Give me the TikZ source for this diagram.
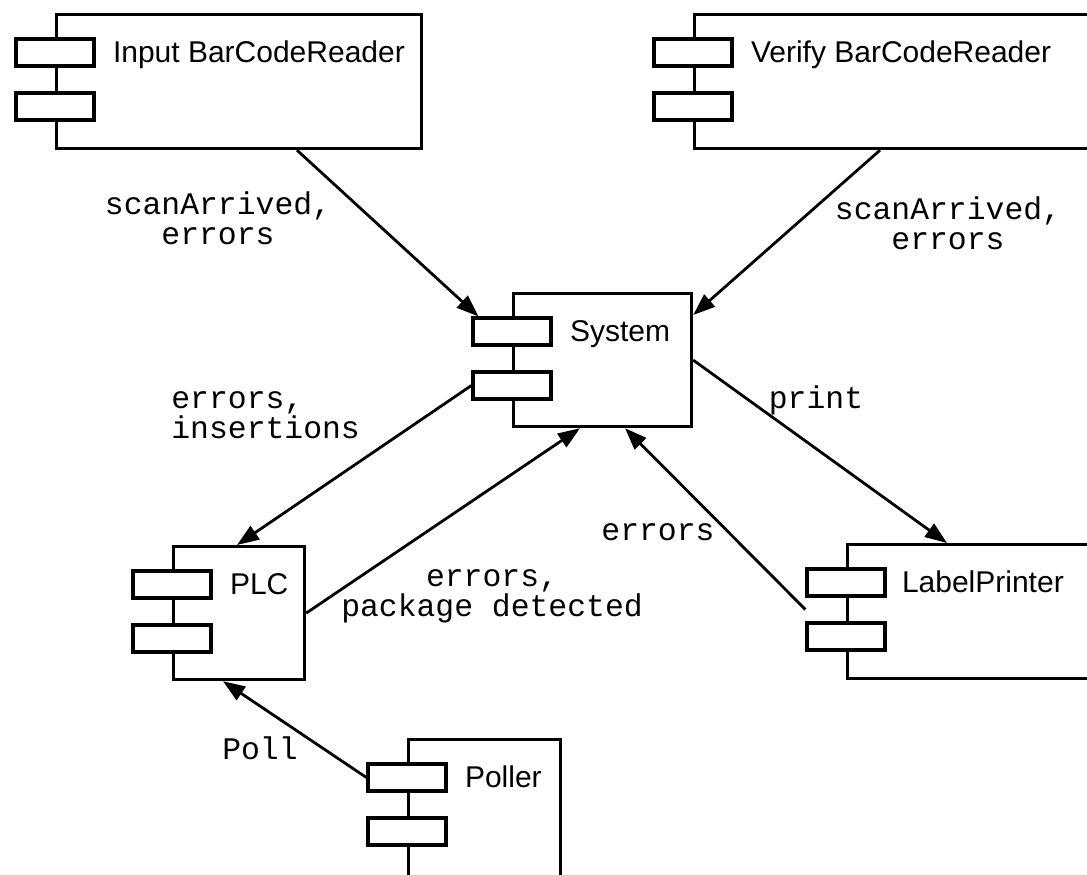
\documentclass[tikz,border=0pt]{standalone}
\usepackage{fontspec}
\setmainfont{Liberation Sans}
\setmonofont{Liberation Mono}
\usetikzlibrary{arrows.meta, positioning, calc}

\begin{document}
\begin{tikzpicture}[
    x=0.5pt, y=-0.5pt,
    comp/.style={rectangle, draw, line width=1.6pt, fill=white, anchor=north west, inner sep=0pt},
    port/.style={rectangle, draw, line width=1.6pt, fill=white, minimum width=39pt,
                 minimum height=13.5pt, inner sep=0pt},
    title/.style={anchor=base west, inner sep=0pt, font=\fontsize{15}{17}\selectfont},
    msg/.style={font=\ttfamily\fontsize{15.7}{15}\selectfont, align=center, inner sep=0pt},
    arrow/.style={-{Triangle[length=11pt, width=8pt]}, line width=1.4pt},
]
\clip[use as bounding box] (0,0) rectangle (1087,874);

% components
\node[comp, minimum width=182.5pt, minimum height=67pt] (inbcr) at (55,13) {};
\node[comp, minimum width=203.5pt, minimum height=67pt] (vbcr) at (693,13) {};
\node[comp, minimum width=89pt, minimum height=66.5pt] (sys) at (512,292) {};
\node[comp, minimum width=65.5pt, minimum height=66.5pt] (plc) at (172,545) {};
\node[comp, minimum width=127pt, minimum height=67pt] (lp) at (846,543) {};
\node[comp, minimum width=76pt, minimum height=76pt] (poll) at (407,738) {};

% the two ports on the left edge of each component
\foreach \c in {inbcr, vbcr, sys, plc, lp, poll} {
    \node[port] (\c-p1) at ($(\c.north west)+(0,39.5)$) {};
    \node[port] (\c-p2) at ($(\c.north west)+(0,93.5)$) {};
}

\node[title] (inbcr-name) at ($(inbcr-p1.east)+(17,10)$) {Input BarCodeReader};
\node[title] (vbcr-name) at ($(vbcr-p1.east)+(17,10)$) {Verify BarCodeReader};
\node[title] (sys-name) at ($(sys-p1.east)+(17,10)$) {System};
\node[title] (plc-name) at ($(plc-p1.east)+(17,10)$) {PLC};
\node[title] (lp-name) at ($(lp-p1.east)+(15,10)$) {LabelPrinter};
\node[title] (poll-name) at ($(poll-p1.east)+(17,10)$) {Poller};

% messages
\draw[arrow] ($(inbcr.south west)+(242,0)$) -- ($(sys-p1.north west)+(7,0)$);
\draw[arrow] ($(vbcr.south west)+(187,0)$) -- ($(sys.north east)+(0,23)$);
\draw[arrow] (sys-p2.west) -- ($(plc.north west)+(65,0)$);
\draw[arrow] (plc.east) -- ($(sys.south west)+(68,0)$);
\draw[arrow] ($(lp-p1.south west)!0.5!(lp-p2.north west)$) -- ($(sys.south west)+(113,0)$);
\draw[arrow] (sys.east) -- ($(lp.north west)+(101,0)$);
\draw[arrow] (poll-p1.west) -- ($(plc.south west)+(51,0)$);

\node[msg] (m-inbcr) at (218,218) {scanArrived,\\errors};
\node[msg] (m-vbcr) at (948,223) {scanArrived,\\errors};
\node[msg, align=left, anchor=west] (m-ins) at (171,415) {errors,\\insertions};
\node[msg] (m-pkg) at (492,596) {errors,\\package detected};
\node[msg] (m-err) at (658,532) {errors};
\node[msg] (m-print) at (816,400) {print};
\node[msg] (m-poll) at (260,748) {Poll};

\end{tikzpicture}
\end{document}
